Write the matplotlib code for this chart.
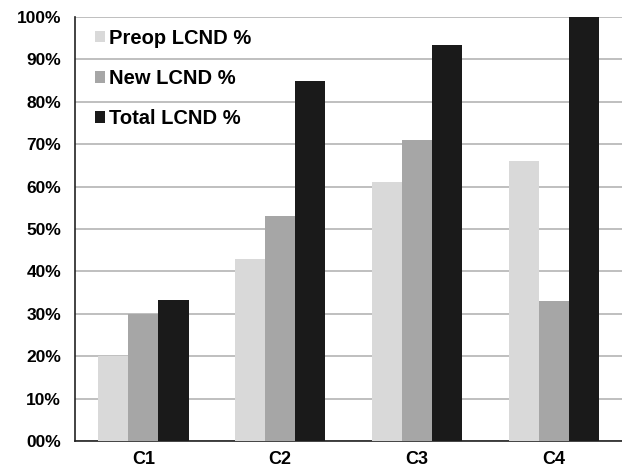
"""Grouped bar chart of LCND percentages by category."""

import matplotlib

matplotlib.use("Agg")

import matplotlib.pyplot as plt
import numpy as np

categories = ["C1", "C2", "C3", "C4"]
preop = [20, 43, 61, 66]
new = [30, 53, 71, 33]
total = [33.3, 85, 93.3, 100]
series_names = ["Preop LCND %", "New LCND %", "Total LCND %"]
y_ticks = [0, 10, 20, 30, 40, 50, 60, 70, 80, 90, 100]
y_labels = ["00%", "10%", "20%", "30%", "40%", "50%", "60%", "70%", "80%", "90%", "100%"]


def main() -> None:
    plt.rcParams["font.family"] = ["Liberation Sans", "DejaVu Sans"]
    plt.rcParams["font.weight"] = "bold"

    fig = plt.figure(figsize=(6.22, 4.69), dpi=100)
    ax = fig.add_axes([0.1206, 0.0597, 0.8794, 0.904])

    x = np.arange(len(categories))
    width = 0.22
    colors = ["#d9d9d9", "#a6a6a6", "#1a1a1a"]
    for i, (vals, name, color) in enumerate(zip([preop, new, total], series_names, colors)):
        ax.bar(x + (i - 1) * width, vals, width, color=color, label=name, zorder=3)

    ax.set_xlim(-0.5, 3.5)
    ax.set_ylim(0, 100)
    ax.set_yticks(y_ticks)
    ax.set_yticklabels(y_labels, fontsize=12.5, fontweight="bold")
    ax.set_xticks(x)
    ax.set_xticklabels(categories, fontsize=13, fontweight="bold")
    ax.tick_params(axis="y", length=0, pad=10)
    ax.tick_params(axis="x", length=0, pad=7)

    ax.grid(axis="y", color="#b4b4b4", linewidth=1.2, zorder=0)
    for side in ["top", "right"]:
        ax.spines[side].set_visible(False)
    ax.spines["left"].set_color("#222222")
    ax.spines["bottom"].set_color("#222222")
    ax.spines["left"].set_linewidth(1.2)
    ax.spines["bottom"].set_linewidth(1.2)

    ax.legend(
        loc="upper left",
        bbox_to_anchor=(0.004, 1.015),
        frameon=False,
        prop={"size": 14.5, "weight": "bold"},
        handlelength=0.5,
        handleheight=0.5,
        handletextpad=0.2,
        labelspacing=1.05,
    )

    fig.savefig("out.png", dpi=100)
    plt.close(fig)


if __name__ == "__main__":
    main()
